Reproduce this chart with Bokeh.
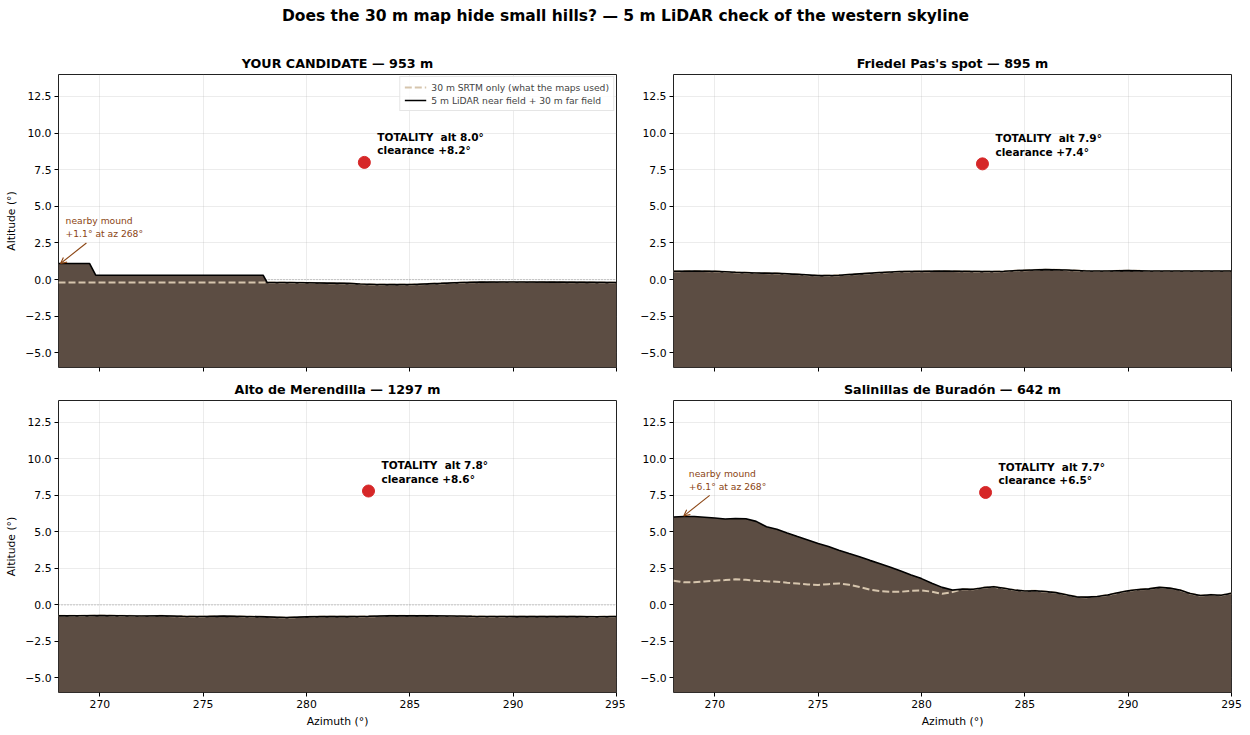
from bokeh.plotting import figure
from bokeh.layouts import column, row
from bokeh.models import (Range1d, FixedTicker, CustomJSTickFormatter, Span, Label,
                          Arrow, OpenHead, Legend, LegendItem)
from bokeh.embed import file_html
from bokeh.resources import INLINE

FONT = "DejaVu Sans"
GROUND = "#5c4d43"
SRTM_COLOR = "#d6c5ad"
DOT_COLOR = "#d62728"
MOUND_COLOR = "#8b4513"

SUPTITLE = "Does the 30 m map hide small hills? — 5 m LiDAR check of the western skyline"

# ---- sites -------------------------------------------------------------
site_names = ["YOUR CANDIDATE", "Friedel Pas's spot", "Alto de Merendilla", "Salinillas de Buradón"]
site_elev_m = [953, 895, 1297, 642]

# sun position at totality and clearance above the skyline
totality_az = [282.8, 282.95, 283.0, 283.1]
totality_alt = [8.0, 7.9, 7.8, 7.7]
clearance = [8.2, 7.4, 8.6, 6.5]

# local mounds picked up only by the 5 m LiDAR
mound_site = [0, 3]
mound_az = [268.1, 268.5]
mound_alt = [1.1, 6.1]
mound_az_label = [268, 268]

AZ_MIN, AZ_MAX = 268, 295
ALT_MIN, ALT_MAX = -6, 14
az_ticks = [270, 275, 280, 285, 290, 295]
alt_ticks = [-5.0, -2.5, 0.0, 2.5, 5.0, 7.5, 10.0, 12.5]

# ---- skyline profiles (azimuth deg, altitude deg) -----------------------
cand_az = [268.0, 269.5, 269.8, 277.9, 278.1, 279.0, 280.0, 281.0, 282.0, 282.6,
           283.4, 284.2, 285.1, 286.5, 287.5, 288.4, 290.0, 292.0, 294.0, 295.0]
cand_lidar = [1.1, 1.1, 0.3, 0.3, -0.2, -0.2, -0.22, -0.24, -0.26, -0.3,
              -0.33, -0.34, -0.33, -0.26, -0.2, -0.17, -0.16, -0.17, -0.19, -0.2]
cand_srtm = [-0.2, -0.2, -0.2, -0.2, -0.2, -0.2, -0.22, -0.24, -0.26, -0.3,
             -0.33, -0.34, -0.33, -0.26, -0.2, -0.17, -0.16, -0.17, -0.19, -0.2]

fri_az = [268, 269, 270, 271, 272, 273, 274, 275, 276, 277, 278, 279, 280, 281,
          282, 283, 284, 285, 286, 287, 288, 289, 290, 291, 292, 293, 294, 295]
fri_lidar = [0.57, 0.59, 0.57, 0.5, 0.45, 0.43, 0.36, 0.27, 0.3, 0.39, 0.48, 0.55, 0.57, 0.59,
             0.57, 0.55, 0.57, 0.64, 0.68, 0.66, 0.59, 0.59, 0.61, 0.59, 0.59, 0.59, 0.59, 0.59]
fri_srtm = [0.57, 0.59, 0.57, 0.5, 0.45, 0.43, 0.36, 0.27, 0.3, 0.39, 0.48, 0.55, 0.57, 0.59,
            0.57, 0.55, 0.57, 0.64, 0.68, 0.66, 0.59, 0.59, 0.61, 0.59, 0.59, 0.59, 0.59, 0.59]

mer_az = [268, 269, 270, 271, 272, 273, 274, 275, 276, 277, 278, 279, 280, 281,
          282, 283, 284, 285, 286, 287, 288, 289, 290, 291, 292, 293, 294, 295]
mer_lidar = [-0.75, -0.74, -0.73, -0.74, -0.76, -0.75, -0.78, -0.79, -0.77, -0.79, -0.82, -0.86, -0.82, -0.79,
             -0.8, -0.78, -0.75, -0.74, -0.75, -0.76, -0.78, -0.79, -0.8, -0.79, -0.8, -0.8, -0.81, -0.79]
mer_srtm = [-0.75, -0.74, -0.73, -0.74, -0.76, -0.75, -0.78, -0.79, -0.77, -0.79, -0.82, -0.86, -0.82, -0.79,
            -0.8, -0.78, -0.75, -0.74, -0.75, -0.76, -0.78, -0.79, -0.8, -0.79, -0.8, -0.8, -0.81, -0.79]

sal_az = [268.0, 268.5, 269.0, 269.5, 270.0, 270.5, 271.0, 271.5, 272.0, 272.5,
          273.0, 273.5, 274.0, 274.5, 275.0, 275.5, 276.0, 276.5, 277.0, 277.5,
          278.0, 278.5, 279.0, 279.5, 280.0, 280.5, 281.0, 281.5, 282.0, 282.5,
          283.0, 283.5, 284.0, 284.5, 285.0, 285.5, 286.0, 286.5, 287.0, 287.5,
          288.0, 288.5, 289.0, 289.5, 290.0, 290.5, 291.0, 291.5, 292.0, 292.5,
          293.0, 293.5, 294.0, 294.5, 295.0]
sal_lidar = [6.02, 6.05, 6.05, 6.0, 5.95, 5.88, 5.92, 5.9, 5.72, 5.35,
             5.18, 4.92, 4.68, 4.45, 4.2, 4.0, 3.75, 3.52, 3.3, 3.05,
             2.82, 2.58, 2.32, 2.05, 1.8, 1.48, 1.2, 1.02, 1.08, 1.07,
             1.18, 1.24, 1.14, 1.02, 0.95, 0.97, 0.92, 0.84, 0.7, 0.55,
             0.53, 0.57, 0.68, 0.83, 0.97, 1.06, 1.1, 1.2, 1.15, 1.02,
             0.78, 0.64, 0.7, 0.66, 0.8]
sal_srtm = [1.66, 1.55, 1.55, 1.6, 1.66, 1.7, 1.75, 1.72, 1.66, 1.62,
            1.59, 1.52, 1.46, 1.4, 1.37, 1.42, 1.47, 1.38, 1.22, 1.05,
            0.95, 0.9, 0.9, 0.97, 1.0, 0.9, 0.76, 0.88, 1.08, 1.07,
            1.18, 1.24, 1.14, 1.02, 0.95, 0.97, 0.92, 0.84, 0.7, 0.55,
            0.53, 0.57, 0.68, 0.83, 0.97, 1.06, 1.1, 1.2, 1.15, 1.02,
            0.78, 0.64, 0.7, 0.66, 0.8]

profiles = [
    (cand_az, cand_lidar, cand_srtm),
    (fri_az, fri_lidar, fri_srtm),
    (mer_az, mer_lidar, mer_srtm),
    (sal_az, sal_lidar, sal_srtm),
]

SRTM_LABEL = "30 m SRTM only (what the maps used)"
LIDAR_LABEL = "5 m LiDAR near field + 30 m far field"


def make_panel(i, width, height, left, right, top, bottom, x_labels, y_label, title_standoff):
    p = figure(width=width, height=height,
               x_range=Range1d(AZ_MIN, AZ_MAX), y_range=Range1d(ALT_MIN, ALT_MAX),
               output_backend="svg", toolbar_location=None,
               min_border_left=left, min_border_right=right,
               min_border_top=top, min_border_bottom=bottom,
               background_fill_color="white", border_fill_color="white",
               outline_line_color="#222222", outline_line_width=1)

    p.title.text = f"{site_names[i]} — {site_elev_m[i]} m"
    p.title.align = "center"
    p.title.text_font = FONT
    p.title.text_font_size = "12.7px"
    p.title.text_font_style = "bold"
    p.title.text_color = "black"
    p.title.standoff = title_standoff

    p.xaxis.ticker = FixedTicker(ticks=az_ticks)
    p.yaxis.ticker = FixedTicker(ticks=alt_ticks)
    p.yaxis.formatter = CustomJSTickFormatter(
        code="return tick.toFixed(1).replace('-', '\\u2212');")
    if y_label:
        p.yaxis.axis_label = "Altitude (°)"

    for ax in p.axis:
        ax.axis_line_color = None
        ax.major_tick_line_color = "black"
        ax.major_tick_line_width = 1
        ax.major_tick_out = 4
        ax.major_tick_in = 0
        ax.minor_tick_line_color = None
        ax.major_label_text_font = FONT
        ax.major_label_text_font_size = "10.8px"
        ax.major_label_text_color = "black"
        ax.major_label_standoff = 3
        ax.axis_label_text_font = FONT
        ax.axis_label_text_font_size = "10.8px"
        ax.axis_label_text_font_style = "normal"
        ax.axis_label_text_color = "black"
    p.xaxis.axis_label_standoff = 4
    p.yaxis.axis_label_standoff = 4

    if x_labels:
        p.xaxis.axis_label = "Azimuth (°)"
    else:
        # upper row shares the azimuth axis: ticks only
        p.xaxis.formatter = CustomJSTickFormatter(code="return '';")
        p.xaxis.major_label_standoff = 0

    p.grid.grid_line_color = "#b0b0b0"
    p.grid.grid_line_alpha = 0.3
    p.grid.grid_line_width = 0.8

    p.add_layout(Span(location=0, dimension="width", line_color="#808080",
                      line_width=0.8, line_dash="1 2", level="underlay"))

    az, lidar, srtm = profiles[i]
    p.varea(x=az, y1=ALT_MIN, y2=lidar, fill_color=GROUND, fill_alpha=1)
    r_srtm = p.line(az, srtm, line_color=SRTM_COLOR, line_width=2, line_dash="7 3")
    r_lidar = p.line(az, lidar, line_color="black", line_width=1.6)

    p.scatter([totality_az[i]], [totality_alt[i]], size=12,
              fill_color=DOT_COLOR, line_color=DOT_COLOR)
    p.add_layout(Label(
        x=totality_az[i], y=totality_alt[i], x_offset=13, y_offset=6,
        text=f"TOTALITY\u00a0 alt {totality_alt[i]:.1f}°\nclearance {clearance[i]:+.1f}°",
        text_font=FONT, text_font_size="10.5px", text_font_style="bold",
        text_color="black", text_baseline="bottom", text_line_height=1.15))

    if i in mound_site:
        k = mound_site.index(i)
        mx, my = mound_az[k], mound_alt[k]
        p.add_layout(Arrow(x_start=mx + 1.25, y_start=my + 1.4, x_end=mx, y_end=my,
                           line_color=MOUND_COLOR, line_width=1.1,
                           end=OpenHead(size=6, line_color=MOUND_COLOR, line_width=1.1)))
        p.add_layout(Label(
            x=mx, y=my, x_offset=5, y_offset=24,
            text=f"nearby mound\n{my:+.1f}° at az {mound_az_label[k]}°",
            text_font=FONT, text_font_size="9.2px", text_color=MOUND_COLOR,
            text_baseline="bottom", text_line_height=1.2))

    if i == 0:
        legend = Legend(items=[LegendItem(label=SRTM_LABEL, renderers=[r_srtm]),
                               LegendItem(label=LIDAR_LABEL, renderers=[r_lidar])],
                        location="top_right", margin=2, padding=4, spacing=1,
                        label_text_font=FONT, label_text_font_size="9.2px",
                        label_height=12, glyph_height=10, glyph_width=22,
                        label_standoff=5,
                        border_line_color="#cccccc", border_line_width=1,
                        background_fill_color="white", background_fill_alpha=0.85)
        p.add_layout(legend)
    return p


head = figure(width=1250, height=40, output_backend="svg", toolbar_location=None,
              x_range=Range1d(0, 1), y_range=Range1d(0, 1),
              min_border_left=0, min_border_right=0, min_border_top=24, min_border_bottom=0,
              outline_line_color=None, background_fill_color="white", border_fill_color="white")
head.axis.visible = False
head.grid.visible = False
head.title.text = SUPTITLE
head.title.align = "center"
head.title.text_font = FONT
head.title.text_font_size = "15.5px"
head.title.text_font_style = "bold"
head.title.text_color = "black"
head.title.standoff = 0

tl = make_panel(0, 625, 335, 58, 9, 34, 8, x_labels=False, y_label=True, title_standoff=7)
tr = make_panel(1, 625, 335, 48, 19, 34, 8, x_labels=False, y_label=False, title_standoff=7)
bl = make_panel(2, 625, 360, 58, 9, 25, 43, x_labels=True, y_label=True, title_standoff=7)
br = make_panel(3, 625, 360, 48, 19, 25, 43, x_labels=True, y_label=False, title_standoff=7)

layout = column(head, row(tl, tr), row(bl, br))

with open("out.html", "w") as f:
    f.write(file_html(layout, INLINE))
